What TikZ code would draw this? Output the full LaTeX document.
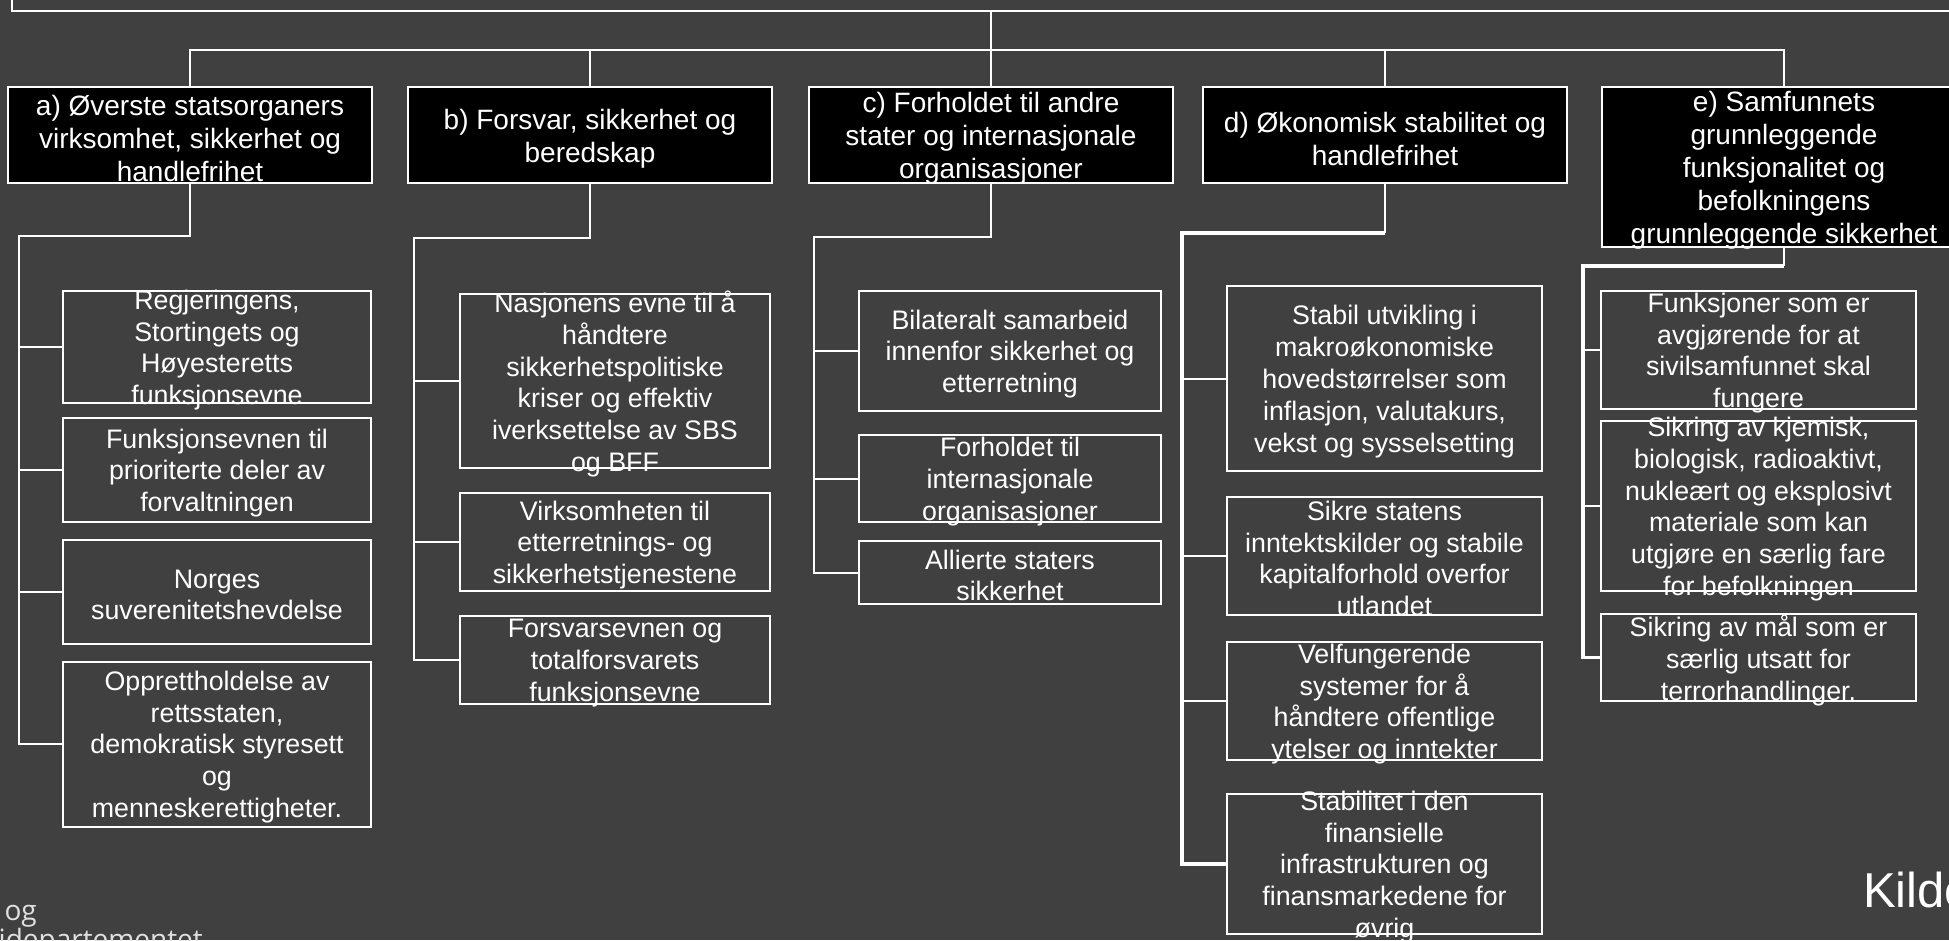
\documentclass[tikz,border=0pt]{standalone}
\usepackage{fontspec}
\newfontfamily\arialf{Liberation Sans}
\newfontfamily\srcfont{Open Sans}
\newcommand\hdrfont{\arialf\fontsize{28}{33}\selectfont}
\newcommand\subfont{\arialf\fontsize{26.8}{31.8}\selectfont}
\definecolor{bg}{RGB}{64,64,64}
\definecolor{srcgray}{RGB}{225,225,225}
\tikzset{
  hdr/.style={draw=white, line width=2pt, fill=black, minimum width=364pt, inner sep=0pt},
  sub/.style={draw=white, line width=2pt, inner sep=0pt},
  htxt/.style={text=white, align=center, font=\hdrfont, inner sep=0pt, yshift=-3.5pt},
  stxt/.style={text=white, align=center, font=\subfont, inner sep=0pt, yshift=-3pt},
  conn/.style={draw=white, line width=2pt, line join=miter},
  thconn/.style={draw=white, line width=3.2pt, line join=miter},
}
\newcommand\subbox[6]{%
  \node[sub, minimum width=#4pt, minimum height=#5pt] (#1) at (#2,#3) {};
  \node[stxt] (#1t) at (#1.center) {#6};}
\newcommand\hdrbox[5]{%
  \node[hdr, minimum height=#4pt] (#1) at (#2,#3) {};
  \node[htxt] (#1t) at (#1.center) {#5};}
\begin{document}
\begin{tikzpicture}[x=1pt,y=-1pt]
\useasboundingbox (0,0) rectangle (1949,940);
\fill[bg] (0,0) rectangle (1949,940);

% top box (mostly outside the picture)
\node[draw=white, line width=2pt, minimum width=1988pt, minimum height=41pt, inner sep=0pt] (topbox) at (1006,-9.5) {};

% headers
\hdrbox{ha}{190}{135}{96}{a) Øverste statsorganers\\virksomhet, sikkerhet og\\handlefrihet}
\hdrbox{hb}{590}{135}{96}{b) Forsvar, sikkerhet og\\beredskap}
\hdrbox{hc}{991}{135}{96}{c) Forholdet til andre\\stater og internasjonale\\organisasjoner}
\hdrbox{hd}{1385}{135}{96}{d) Økonomisk stabilitet og\\handlefrihet}
\hdrbox{he}{1784}{167}{160}{e) Samfunnets\\grunnleggende\\funksjonalitet og\\befolkningens\\grunnleggende sikkerhet}

% bus
\coordinate (busL) at (190,50);
\coordinate (busR) at (1784,50);
\draw[conn] (topbox.south -| hc.north) -- (hc.north);
\draw[conn] (ha.north) |- (busR) -- (he.north);
\draw[conn] (hb.north) -- (hb.north |- busL);
\draw[conn] (hd.north) -- (hd.north |- busL);

% column a
\subbox{a1}{217}{347}{308}{112}{Regjeringens,\\Stortingets og\\Høyesteretts\\funksjonsevne}
\subbox{a2}{217}{470}{308}{104}{Funksjonsevnen til\\prioriterte deler av\\forvaltningen}
\subbox{a3}{217}{592}{308}{104}{Norges\\suverenitetshevdelse}
\subbox{a4}{217}{744}{308}{165}{Opprettholdelse av\\rettsstaten,\\demokratisk styresett\\og\\menneskerettigheter.}
\coordinate (aj) at (18.5,236);
\draw[conn] (ha.south) |- (aj) |- (a4.west);
\foreach \i in {1,2,3} \draw[conn] (aj |- a\i.west) -- (a\i.west);

% column b
\subbox{b1}{615}{381}{310}{174}{Nasjonens evne til å\\håndtere\\sikkerhetspolitiske\\kriser og effektiv\\iverksettelse av SBS\\og BFF}
\subbox{b2}{615}{542}{310}{98}{Virksomheten til\\etterretnings- og\\sikkerhetstjenestene}
\subbox{b3}{615}{660}{310}{88}{Forsvarsevnen og\\totalforsvarets\\funksjonsevne}
\coordinate (bj) at (414,238);
\draw[conn] (hb.south) |- (bj) |- (b3.west);
\foreach \i in {1,2} \draw[conn] (bj |- b\i.west) -- (b\i.west);

% column c
\subbox{c1}{1010}{351}{302}{120}{Bilateralt samarbeid\\innenfor sikkerhet og\\etterretning}
\subbox{c2}{1010}{478.5}{302}{87}{Forholdet til\\internasjonale\\organisasjoner}
\subbox{c3}{1010}{572.5}{302}{63}{Allierte staters\\sikkerhet}
\coordinate (cj) at (814,236.5);
\draw[conn] (hc.south) |- (cj) |- (c3.west);
\foreach \i in {1,2} \draw[conn] (cj |- c\i.west) -- (c\i.west);

% column d
\subbox{d1}{1384.5}{378.5}{315}{185}{Stabil utvikling i\\makroøkonomiske\\hovedstørrelser som\\inflasjon, valutakurs,\\vekst og sysselsetting}
\subbox{d2}{1384.5}{555.5}{315}{118}{Sikre statens\\inntektskilder og stabile\\kapitalforhold overfor\\utlandet}
\subbox{d3}{1384.5}{701}{315}{118}{Velfungerende\\systemer for å\\håndtere offentlige\\ytelser og inntekter}
\subbox{d4}{1384.5}{864}{315}{140}{Stabilitet i den\\finansielle\\infrastrukturen og\\finansmarkedene for\\øvrig}
\coordinate (dj) at (1182,233);
\draw[conn] (hd.south) -- (hd.south |- dj);
\draw[thconn] (hd.south |- dj) -- (dj) |- (d4.west);
\foreach \i in {1,2,3} \draw[conn] (dj |- d\i.west) -- (d\i.west);

% column e
\subbox{e1}{1758.5}{350}{315}{118}{Funksjoner som er\\avgjørende for at\\sivilsamfunnet skal\\fungere}
\subbox{e2}{1758.5}{506}{315}{170}{Sikring av kjemisk,\\biologisk, radioaktivt,\\nukleært og eksplosivt\\materiale som kan\\utgjøre en særlig fare\\for befolkningen}
\subbox{e3}{1758.5}{657.5}{315}{87}{Sikring av mål som er\\særlig utsatt for\\terrorhandlinger.}
\coordinate (ej) at (1583,266);
\draw[conn] (he.south) -- (he.south |- ej);
\draw[thconn] (he.south |- ej) -- (ej) |- (e3.west);
\foreach \i in {1,2} \draw[conn] (ej |- e\i.west) -- (e\i.west);

% source texts (cut by the picture edges)
\node[anchor=base east, text=srcgray, font=\srcfont\fontsize{28}{30}\selectfont, inner sep=0pt] (src1) at (37,920) {- og};
\node[anchor=base east, text=srcgray, font=\srcfont\fontsize{28}{30}\selectfont, inner sep=0pt] (src2) at (203,949) {rgidepartementet};
\node[anchor=base west, text=white, font=\arialf\fontsize{49}{55}\selectfont, inner sep=0pt] (kilde) at (1863,907) {Kilde};
\end{tikzpicture}
\end{document}
